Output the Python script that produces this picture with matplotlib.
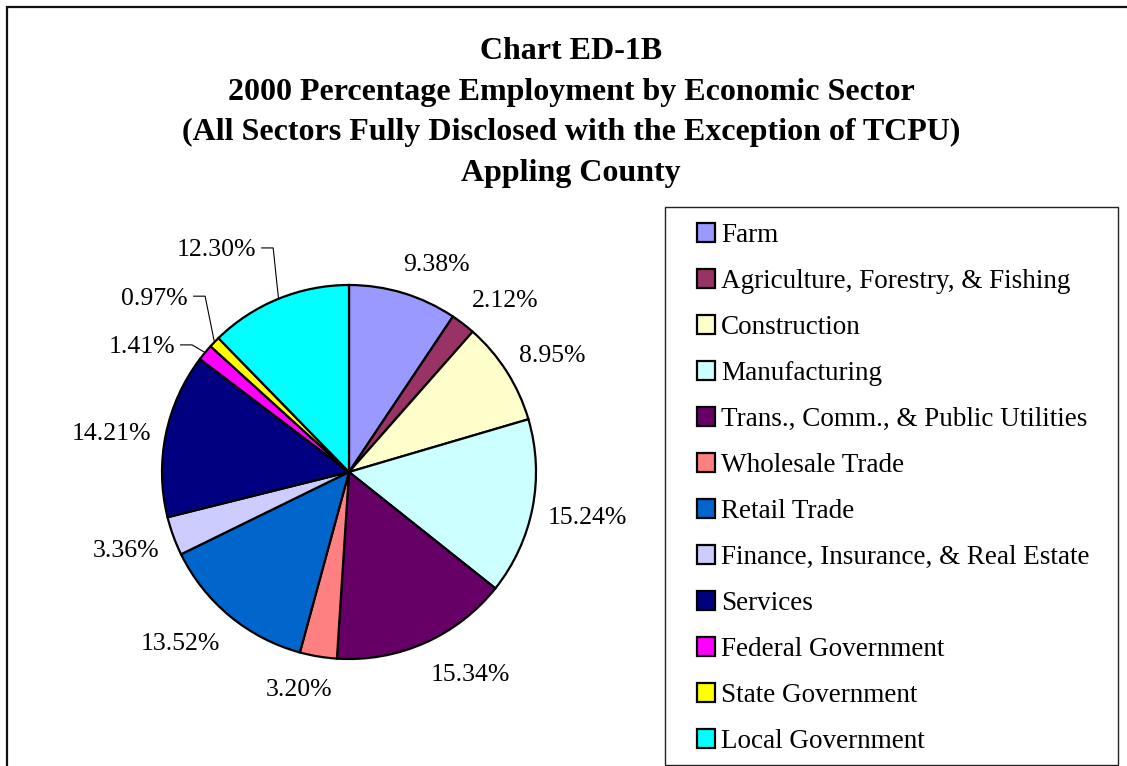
import matplotlib
matplotlib.use("Agg")
import matplotlib.pyplot as plt
import numpy as np
from matplotlib.patches import Rectangle

# ---- data -------------------------------------------------------------
sectors = [
    "Farm",
    "Agriculture, Forestry, & Fishing",
    "Construction",
    "Manufacturing",
    "Trans., Comm., & Public Utilities",
    "Wholesale Trade",
    "Retail Trade",
    "Finance, Insurance, & Real Estate",
    "Services",
    "Federal Government",
    "State Government",
    "Local Government",
]
shares = [9.38, 2.12, 8.95, 15.24, 15.34, 3.20, 13.52, 3.36, 14.21, 1.41, 0.97, 12.30]
colors = ["#9999FF", "#993366", "#FFFFCC", "#CCFFFF", "#660066", "#FF8080",
          "#0066CC", "#CCCCFF", "#000080", "#FF00FF", "#FFFF00", "#00FFFF"]

title_lines = [
    "Chart ED-1B",
    "2000 Percentage Employment by Economic Sector",
    "(All Sectors Fully Disclosed with the Exception of TCPU)",
    "Appling County",
]

# labels pulled out with leader lines: (radius factor, degrees clockwise from 12 o'clock)
leader_layout = {
    "Federal Government": (1.08, -51.0),
    "State Government": (1.215, -39.3),
    "Local Government": (1.265, -18.7),
}

# ---- canvas in pixel units (y measured upward) -------------------------
W, H = 1127, 766
plt.rcParams["font.family"] = ["Liberation Serif", "DejaVu Serif"]
fig = plt.figure(figsize=(W / 100, H / 100), dpi=100)
ax = fig.add_axes([0, 0, 1, 1])


def py(y_from_top):
    return H - y_from_top


cx, cy, r = 349.0, py(472), 187.0
wedges, _ = ax.pie(
    shares, colors=colors, startangle=90, counterclock=False,
    center=(cx, cy), radius=r, frame=True,
    wedgeprops=dict(edgecolor="black", linewidth=1.6),
)
ax.set_xlim(0, W)
ax.set_ylim(0, H)
ax.set_aspect("equal")
ax.axis("off")

# outer frame (runs off the right and bottom edges)
ax.add_patch(Rectangle((7, -50), W + 100, py(7) + 50, fill=False,
                       edgecolor="#111111", linewidth=1.6, clip_on=True))

# title
ax.text(571, py(112.5), "\n".join(title_lines), ha="center", va="center",
        fontsize=23, fontweight="bold", linespacing=1.53)

# ---- slice labels ------------------------------------------------------
label_fs = 18.5
plain_labels = []
for name, val, w in zip(sectors, shares, wedges):
    text = f"{val:.2f}%"
    mid = np.deg2rad((w.theta1 + w.theta2) / 2)
    u = np.array([np.cos(mid), np.sin(mid)])
    if name in leader_layout:
        rf, a = leader_layout[name]
        ar = np.deg2rad(a)
        end = np.array([cx + rf * r * np.sin(ar), cy + rf * r * np.cos(ar)])
        edge = np.array([cx, cy]) + r * u
        stub = end - np.array([12, 0])
        ax.plot([edge[0], end[0], stub[0]], [edge[1], end[1], stub[1]],
                color="black", linewidth=0.8, solid_capstyle="butt")
        ax.text(stub[0] - 5, end[1], text, ha="right", va="center_baseline",
                fontsize=label_fs)
    else:
        p = np.array([cx, cy]) + (r + 15) * u
        t = ax.text(p[0], p[1], text, ha="center", va="center", fontsize=label_fs)
        plain_labels.append((t, p, u))

fig.canvas.draw()
for t, p, u in plain_labels:
    bb = t.get_window_extent()
    fx = np.clip(3 * u[0], -1, 1)
    fy = np.clip(1.3 * u[1], -1.3, 1.3)
    shift = -5 if u[1] < 0.5 else 0
    t.set_position((p[0] + bb.width / 2 * fx, p[1] + bb.height / 2 * fy + shift))

# ---- legend ------------------------------------------------------------
ax.add_patch(Rectangle((665, py(765)), 1118 - 665, 765 - 207, fill=False,
                       edgecolor="#222222", linewidth=1.0))
leg_fs = 19.5
ax.legend(wedges, sectors, loc="upper left", bbox_to_anchor=(697, py(223)),
          bbox_transform=ax.transData, frameon=False, fontsize=leg_fs,
          borderpad=0, borderaxespad=0, handlelength=0.66, handleheight=0.66,
          handletextpad=0.24, labelspacing=0.775)

fig.savefig("out.png", dpi=100)
